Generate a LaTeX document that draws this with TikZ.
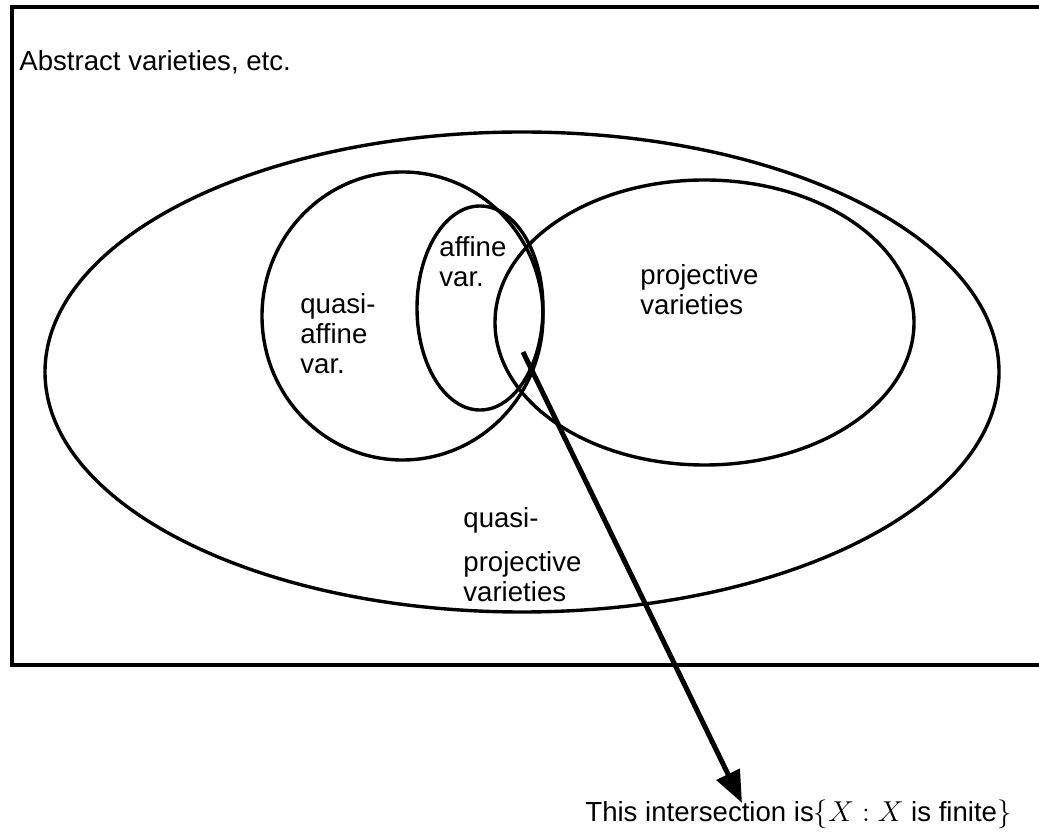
\documentclass[tikz,border=0pt]{standalone}
\usepackage{amsmath}
\usepackage{fontspec}
\setmainfont{Liberation Sans}
\usepackage{tikz}
\usetikzlibrary{calc}
\usetikzlibrary{arrows.meta}
\usetikzlibrary{positioning}
\tikzset{>=latex}
\tikzstyle{set} = [draw, line width = 1.7pt]
\tikzstyle{lbl} = [draw=none, inner sep = 0, align = left, anchor = west, font = \fontsize{13.8}{15}\selectfont]

\begin{document}
\begin{tikzpicture}[x=50pt, y=50pt]
\useasboundingbox (0, 0) rectangle (10.39, -8.38);
% frame, right edge runs off the page
\draw [line width = 1.7pt] (10.45, -0.07) -- (0.12, -0.07) -- (0.12, -6.65) -- (10.45, -6.65);
\node [lbl] (abs) at (0.19, -0.62) {Abstract varieties, etc.};
% sets
\draw [set] (5.22, -3.72) ellipse [x radius = 4.77, y radius = 2.40];
\draw [set] (4.025, -3.16) ellipse [x radius = 1.405, y radius = 1.44];
\draw [set] (4.80, -3.08) ellipse [x radius = 0.63, y radius = 1.02];
\draw [set] (7.045, -3.225) ellipse [x radius = 2.095, y radius = 1.425];
\node [lbl] (qaff) at (3.00, -3.34) {quasi-\\affine\\var.};
\node [lbl] (aff) at (4.39, -2.62) {affine\\var.};
\node [lbl] (proj) at (6.40, -2.90) {projective\\varieties};
\node [lbl] (qproj) at (4.63, -5.55) {quasi-\\[7pt]projective\\varieties};
% arrow to the note
\coordinate (inter) at (5.23, -3.52);
\coordinate (tip) at (7.42, -8.03);
\node [lbl] (note) at (5.85, -8.14) {This intersection is$\{X : X\text{ is finite}\}$};
\draw [-{Triangle[length=16pt, width=12.5pt]}, line width = 2.5pt] (inter) to (tip);
\end{tikzpicture}
\end{document}
